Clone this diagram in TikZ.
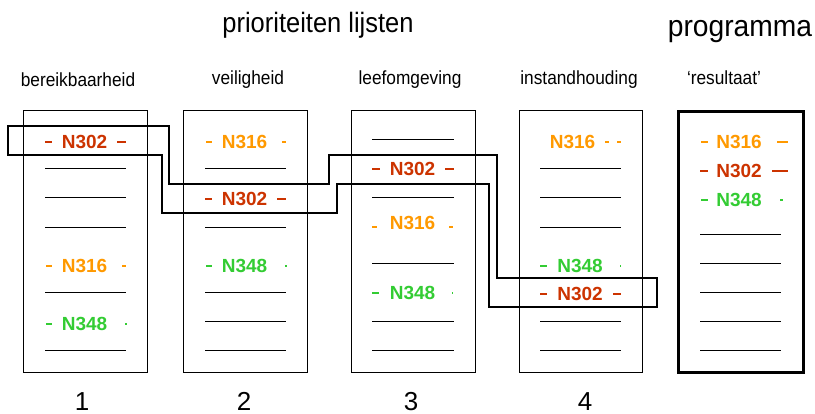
\documentclass[tikz,border=0pt]{standalone}
\usepackage{graphicx}
\usepackage{fontspec}
\setmainfont{Liberation Sans}
\definecolor{cA}{HTML}{CC3300}
\definecolor{cB}{HTML}{FF9900}
\definecolor{cC}{HTML}{33CC33}
\tikzset{
  listbox/.style={draw, line width=1pt, inner sep=0pt, outer sep=0pt, anchor=north west},
  resbox/.style={draw, line width=3pt, inner sep=0pt, outer sep=0pt, anchor=north west},
  rowline/.style={line width=1pt},
  dashmark/.style={line width=2.5pt},
  road/.style={font=\bfseries\fontsize{19}{19}\selectfont, anchor=base, inner sep=0pt},
  header/.style={font=\fontsize{19}{19}\selectfont, anchor=base, inner sep=0pt},
  title/.style={anchor=base, inner sep=0pt},
  numlab/.style={font=\fontsize{26}{26}\selectfont, anchor=base, inner sep=0pt},
  band/.style={line width=1.5pt, line join=miter}
}
\newcommand{\nlab}[9]{%
  \node[road, text=#5] (#1) at (#2,#3+7) {#4};
  \draw[dashmark, #5] (#6,#3) -- (#7,#3);
  \draw[dashmark, #5] (#8,#3) -- (#9,#3);}
\newcommand{\rowl}[3]{\draw[rowline] (#1,#3) -- (#2,#3);}
\newcommand{\narrow}[1]{\scalebox{0.91}[1]{#1}}
\begin{document}
\begin{tikzpicture}[x=1pt,y=-1pt]
\useasboundingbox (0,0) rectangle (815,414);
% titles
\node[title, font=\fontsize{28}{28}\selectfont] (t1) at (318,33) {\narrow{prioriteiten lijsten}};
\node[title, font=\fontsize{30}{30}\selectfont] (t2) at (740,37) {\scalebox{0.94}[1]{programma}};
% headers
\node[header] (h1) at (78,87) {\narrow{bereikbaarheid}};
\node[header] (h2) at (248,85) {\narrow{veiligheid}};
\node[header] (h3) at (410,85) {\narrow{leefomgeving}};
\node[header] (h4) at (579,85) {\narrow{instandhouding}};
\node[header] (h5) at (724,85) {\narrow{‘resultaat’}};
% boxes
\node[listbox, minimum width=124pt, minimum height=262pt] (b1) at (23,111) {};
\node[listbox, minimum width=124pt, minimum height=262pt] (b2) at (183,111) {};
\node[listbox, minimum width=124pt, minimum height=262pt] (b3) at (351,111) {};
\node[listbox, minimum width=123pt, minimum height=262pt] (b4) at (519,111) {};
\node[resbox, minimum width=125pt, minimum height=261pt] (b5) at (678,112) {};
% box 1
\nlab{a1}{84.5}{142}{N302}{cA}{45}{52}{117}{126}
\rowl{45}{126}{169}\rowl{45}{126}{198}\rowl{45}{126}{228}
\nlab{a2}{84.5}{266}{N316}{cB}{46}{52}{122}{126}
\rowl{45}{126}{293}
\nlab{a3}{84.5}{324}{N348}{cC}{46}{52}{125}{126.5}
\rowl{45}{126}{351}
% box 2
\nlab{c1}{244.5}{142}{N316}{cB}{206}{212}{282}{286}
\rowl{205}{286}{169}
\nlab{c2}{244.5}{199}{N302}{cA}{205}{212}{277}{286}
\rowl{205}{286}{228}
\nlab{c3}{244.5}{266}{N348}{cC}{206}{212}{285}{286.5}
\rowl{205}{286}{293}\rowl{205}{286}{322}\rowl{205}{286}{351}
% box 3
\rowl{372}{454}{140}
\nlab{d1}{412.5}{169}{N302}{cA}{372}{380}{445}{454}
\rowl{372}{454}{198}
\node[road, text=cB] (d2) at (412.5,230) {N316};
\draw[dashmark, cB] (372,227) -- (377,227);
\draw[dashmark, cB] (449,227) -- (453,227);
\rowl{372}{454}{264}
\nlab{d3}{412.5}{293}{N348}{cC}{372}{379}{452}{453}
\rowl{372}{454}{322}\rowl{372}{454}{351}
% box 4
\node[road, text=cB] (e1) at (572.5,149) {N316};
\draw[dashmark, cB] (605,142) -- (609,142);
\draw[dashmark, cB] (617,142) -- (621,142);
\rowl{540}{621}{169}\rowl{540}{621}{198}\rowl{540}{621}{228}
\nlab{e2}{580}{266}{N348}{cC}{540}{547}{620}{621}
\nlab{e3}{580}{294}{N302}{cA}{540}{547}{613}{621}
\rowl{540}{621}{322}\rowl{540}{621}{351}
% box 5
\nlab{f1}{739}{142}{N316}{cB}{701}{708}{777}{788}
\nlab{f2}{739}{171}{N302}{cA}{700}{708}{772}{788}
\nlab{f3}{739}{200}{N348}{cC}{701}{708}{780}{783}
\rowl{700}{781}{235}\rowl{700}{781}{264}\rowl{700}{781}{293}\rowl{700}{781}{322}\rowl{700}{781}{351}
% band following N302
\draw[band] (8,126) -- (169,126) -- (169,184) -- (329,184) -- (329,155)
  -- (497,155) -- (497,278) -- (657,278) -- (657,307) -- (489,307)
  -- (489,184) -- (337,184) -- (337,213) -- (162,213) -- (162,155)
  -- (8,155) -- cycle;
% numbers
\node[numlab] (n1) at (82,410) {1};
\node[numlab] (n2) at (244,410) {2};
\node[numlab] (n3) at (411,410) {3};
\node[numlab] (n4) at (585,410) {4};
\end{tikzpicture}
\end{document}
